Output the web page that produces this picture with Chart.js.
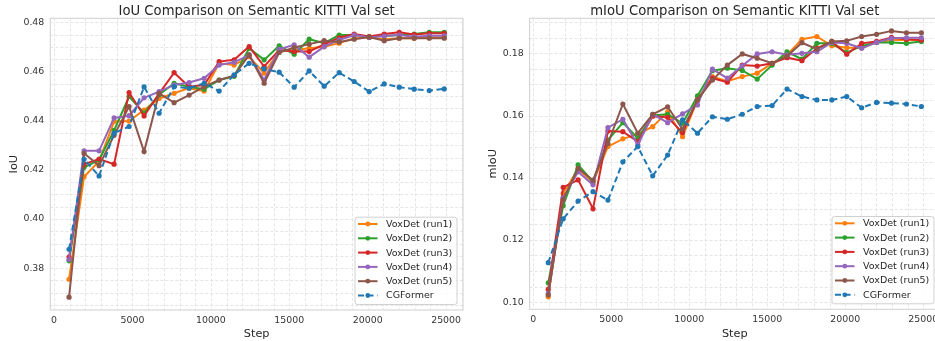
<!DOCTYPE html>
<html>
<head>
<meta charset="utf-8">
<script src="https://cdn.jsdelivr.net/npm/chart.js@4.4.1/dist/chart.umd.min.js"></script>
<style>
  html, body { margin: 0; padding: 0; background: #fff; overflow: hidden; width: 935px; height: 341px; }
  canvas { position: absolute; top: 0; }
  #iouChart { left: 0; }
  #miouChart { left: 467px; }
</style>
</head>
<body>
<canvas id="iouChart" width="467" height="341"></canvas>
<canvas id="miouChart" width="480" height="341"></canvas>
<script>
// training steps (one eval per epoch)
const steps = [957, 1914, 2871, 3828, 4785, 5742, 6699, 7656, 8613, 9570, 10527, 11484, 12441,
               13398, 14355, 15312, 16269, 17226, 18183, 19140, 20097, 21054, 22011, 22968, 23925, 24882];

const seriesNames = ["VoxDet (run1)", "VoxDet (run2)", "VoxDet (run3)", "VoxDet (run4)", "VoxDet (run5)", "CGFormer"];
const seriesColors = ["#ff7f0e", "#2ca02c", "#d62728", "#9467bd", "#8c564b", "#1f77b4"];

// IoU
const iouRun1 = [0.3755, 0.4172, 0.4235, 0.4396, 0.4398, 0.4443, 0.4490, 0.4511, 0.4532, 0.4520, 0.4633, 0.4626, 0.4660,
                 0.4593, 0.4681, 0.4687, 0.4694, 0.4700, 0.4715, 0.4735, 0.4738, 0.4731, 0.4735, 0.4735, 0.4738, 0.4738];
const iouRun2 = [0.3830, 0.4210, 0.4240, 0.4360, 0.4498, 0.4430, 0.4505, 0.4552, 0.4538, 0.4528, 0.4565, 0.4580, 0.4694,
                 0.4647, 0.4704, 0.4670, 0.4731, 0.4715, 0.4748, 0.4748, 0.4742, 0.4744, 0.4748, 0.4752, 0.4759, 0.4759];
const iouRun3 = [0.3845, 0.4223, 0.4244, 0.4223, 0.4514, 0.4419, 0.4510, 0.4595, 0.4538, 0.4545, 0.4640, 0.4647, 0.4701,
                 0.4620, 0.4687, 0.4681, 0.4681, 0.4710, 0.4737, 0.4752, 0.4742, 0.4752, 0.4759, 0.4750, 0.4755, 0.4755];
const iouRun4 = [0.3835, 0.4277, 0.4277, 0.4411, 0.4420, 0.4493, 0.4518, 0.4545, 0.4555, 0.4572, 0.4626, 0.4637, 0.4667,
                 0.4565, 0.4690, 0.4708, 0.4658, 0.4701, 0.4728, 0.4748, 0.4738, 0.4744, 0.4748, 0.4741, 0.4745, 0.4745];
const iouRun5 = [0.3682, 0.4267, 0.4217, 0.4340, 0.4457, 0.4274, 0.4511, 0.4473, 0.4504, 0.4538, 0.4565, 0.4583, 0.4667,
                 0.4552, 0.4677, 0.4697, 0.4711, 0.4725, 0.4720, 0.4731, 0.4740, 0.4725, 0.4735, 0.4735, 0.4735, 0.4735];
const iouCgf  = [0.3877, 0.4243, 0.4175, 0.4349, 0.4376, 0.4537, 0.4430, 0.4538, 0.4532, 0.4552, 0.4520, 0.4586, 0.4633,
                 0.4610, 0.4597, 0.4536, 0.4602, 0.4540, 0.4595, 0.4559, 0.4518, 0.4549, 0.4536, 0.4528, 0.4522, 0.4529];

// mIoU
const miouRun1 = [0.1017, 0.1350, 0.1428, 0.1385, 0.1500, 0.1525, 0.1540, 0.1564, 0.1612, 0.1532, 0.1650, 0.1725, 0.1710,
                  0.1725, 0.1736, 0.1768, 0.1795, 0.1845, 0.1854, 0.1824, 0.1818, 0.1818, 0.1835, 0.1843, 0.1843, 0.1843];
const miouRun2 = [0.1062, 0.1310, 0.1441, 0.1387, 0.1521, 0.1577, 0.1527, 0.1600, 0.1604, 0.1575, 0.1663, 0.1744, 0.1752,
                  0.1745, 0.1717, 0.1762, 0.1805, 0.1781, 0.1832, 0.1832, 0.1802, 0.1824, 0.1835, 0.1835, 0.1832, 0.1838];
const miouRun3 = [0.1041, 0.1369, 0.1393, 0.1300, 0.1550, 0.1548, 0.1516, 0.1598, 0.1594, 0.1545, 0.1650, 0.1720, 0.1707,
                  0.1762, 0.1759, 0.1768, 0.1786, 0.1776, 0.1816, 0.1838, 0.1797, 0.1832, 0.1838, 0.1851, 0.1845, 0.1843];
const miouRun4 = [0.1028, 0.1335, 0.1419, 0.1377, 0.1561, 0.1588, 0.1505, 0.1604, 0.1577, 0.1605, 0.1634, 0.1749, 0.1720,
                  0.1760, 0.1798, 0.1805, 0.1795, 0.1800, 0.1805, 0.1835, 0.1832, 0.1816, 0.1835, 0.1848, 0.1850, 0.1850];
const miouRun5 = [0.1023, 0.1330, 0.1430, 0.1392, 0.1510, 0.1637, 0.1543, 0.1604, 0.1628, 0.1556, 0.1650, 0.1714, 0.1762,
                  0.1798, 0.1784, 0.1768, 0.1791, 0.1834, 0.1813, 0.1838, 0.1840, 0.1854, 0.1861, 0.1872, 0.1866, 0.1866];
const miouCgf  = [0.1127, 0.1268, 0.1325, 0.1355, 0.1328, 0.1451, 0.1500, 0.1406, 0.1473, 0.1586, 0.1543, 0.1596, 0.1588,
                  0.1604, 0.1629, 0.1632, 0.1685, 0.1661, 0.1650, 0.1650, 0.1661, 0.1625, 0.1642, 0.1640, 0.1637, 0.1629];

// tick labels
const stepTicks = [0, 5000, 10000, 15000, 20000, 25000];
const iouTicks  = [0.38, 0.40, 0.42, 0.44, 0.46, 0.48];
const miouTicks = [0.10, 0.12, 0.14, 0.16, 0.18];

const xGridStep = 1000;    // minor grid spacing
const yGridStep = 0.005;

const FONT = '"DejaVu Sans", "Liberation Sans", sans-serif';
const TEXT = '#262626';
const TICK = '#333333';

function drawLegend(ctx, area, datasets) {
    const w = 102, rowH = 14.3, h = 87.3;
    const x0 = area.right - 6.5 - w, y0 = area.bottom - 6 - h;
    ctx.save();
    ctx.fillStyle = 'rgba(255,255,255,0.85)';
    ctx.strokeStyle = '#cccccc';
    ctx.lineWidth = 0.9;
    ctx.setLineDash([]);
    ctx.beginPath();
    ctx.roundRect(x0 + 0.5, y0 + 0.5, w, h, 2.5);
    ctx.fill();
    ctx.stroke();
    ctx.font = '9.5px ' + FONT;
    ctx.textAlign = 'left';
    ctx.textBaseline = 'middle';
    datasets.forEach((ds, k) => {
        const cy = y0 + 7.3 + k * rowH;
        ctx.strokeStyle = ds.borderColor;
        ctx.lineWidth = ds.borderWidth;
        ctx.setLineDash(ds.borderDash);
        ctx.beginPath();
        ctx.moveTo(x0 + 3.5, cy);
        ctx.lineTo(x0 + 23, cy);
        ctx.stroke();
        ctx.setLineDash([]);
        ctx.fillStyle = ds.borderColor;
        ctx.beginPath();
        ctx.arc(x0 + 13.3, cy, 2.4, 0, Math.PI * 2);
        ctx.fill();
        ctx.fillStyle = TEXT;
        ctx.fillText(ds.label, x0 + 31.5, cy + 0.5);
    });
    ctx.restore();
}

// grid under the lines, then frame / ticks / titles / legend on top
const decor = {
    id: 'decor',
    beforeDatasetsDraw(chart) {
        const { ctx, chartArea: a, scales: { x, y } } = chart;
        ctx.save();
        ctx.strokeStyle = '#dedede';
        ctx.lineWidth = 0.8;
        ctx.setLineDash([3, 2]);
        ctx.beginPath();
        for (let k = Math.ceil(x.min / xGridStep); k * xGridStep <= x.max; k++) {
            const px = Math.round(x.getPixelForValue(k * xGridStep)) + 0.5;
            ctx.moveTo(px, a.top);
            ctx.lineTo(px, a.bottom);
        }
        for (let k = Math.ceil(y.min / yGridStep); k * yGridStep <= y.max; k++) {
            const py = Math.round(y.getPixelForValue(k * yGridStep)) + 0.5;
            ctx.moveTo(a.left, py);
            ctx.lineTo(a.right, py);
        }
        ctx.stroke();
        ctx.restore();
    },
    afterDraw(chart, args, opts) {
        const { ctx, chartArea: a, scales: { x, y } } = chart;
        const cx = (a.left + a.right) / 2;
        ctx.save();
        ctx.setLineDash([]);
        ctx.strokeStyle = '#d4d4d4';
        ctx.lineWidth = 1.1;
        ctx.strokeRect(a.left, a.top, a.right - a.left, a.bottom - a.top);

        ctx.fillStyle = TICK;
        ctx.font = '9.4px ' + FONT;
        ctx.textBaseline = 'middle';
        ctx.textAlign = 'center';
        stepTicks.forEach(v => ctx.fillText(String(v), x.getPixelForValue(v), opts.xLabelY));
        ctx.textAlign = 'right';
        opts.yTicks.forEach(v => ctx.fillText(v.toFixed(2), a.left - 6, y.getPixelForValue(v)));

        ctx.fillStyle = TEXT;
        ctx.textAlign = 'center';
        ctx.font = '13.2px ' + FONT;
        ctx.textBaseline = 'alphabetic';
        ctx.fillText(opts.title, cx, 15);

        ctx.font = '11.3px ' + FONT;
        ctx.textBaseline = 'middle';
        ctx.fillText('Step', cx, 334);

        ctx.translate(opts.yLabelX, (a.top + a.bottom) / 2);
        ctx.rotate(-Math.PI / 2);
        ctx.fillText(opts.yLabel, 0, 0);
        ctx.restore();

        drawLegend(ctx, a, chart.data.datasets);
    }
};

function makeDataset(k, values) {
    const dashed = k === 5;
    return {
        label: seriesNames[k],
        data: steps.map((s, i) => ({ x: s, y: values[i] })),
        borderColor: seriesColors[k],
        backgroundColor: seriesColors[k],
        borderWidth: 2,
        borderDash: dashed ? [6, 3.5] : [],
        pointRadius: 2.6,
        pointHoverRadius: 2.6,
        pointBorderWidth: 0,
        tension: 0,
        fill: false,
        order: 5 - k  // later series drawn on top, like matplotlib
    };
}

function makeChart(id, cfg) {
    return new Chart(document.getElementById(id), {
        type: 'line',
        data: { datasets: cfg.series.map((v, k) => makeDataset(k, v)) },
        options: {
            responsive: false,
            animation: false,
            events: [],
            layout: { padding: cfg.area },
            scales: {
                x: { type: 'linear', display: false, min: -239, max: 26078 },
                y: { type: 'linear', display: false, min: cfg.yMin, max: cfg.yMax }
            },
            plugins: {
                legend: { display: false },
                tooltip: { enabled: false },
                decor: {
                    title: cfg.title, yLabel: cfg.yLabel, yLabelX: cfg.yLabelX,
                    xLabelY: cfg.xLabelY, yTicks: cfg.yTicks
                }
            }
        },
        plugins: [decor]
    });
}

makeChart('iouChart', {
    series: [iouRun1, iouRun2, iouRun3, iouRun4, iouRun5, iouCgf],
    yMin: 0.3630, yMax: 0.4816, yTicks: iouTicks,
    title: 'IoU Comparison on Semantic KITTI Val set',
    yLabel: 'IoU', yLabelX: 14,
    area: { left: 50.3, right: 4, top: 18.3, bottom: 31 }, xLabelY: 320.7
});

makeChart('miouChart', {
    series: [miouRun1, miouRun2, miouRun3, miouRun4, miouRun5, miouCgf],
    yMin: 0.0977, yMax: 0.19125, yTicks: miouTicks,
    title: 'mIoU Comparison on Semantic KITTI Val set',
    yLabel: 'mIoU', yLabelX: 26,
    area: { left: 62.6, right: 7, top: 18.3, bottom: 31.7 }, xLabelY: 319.8
});
</script>
</body>
</html>
